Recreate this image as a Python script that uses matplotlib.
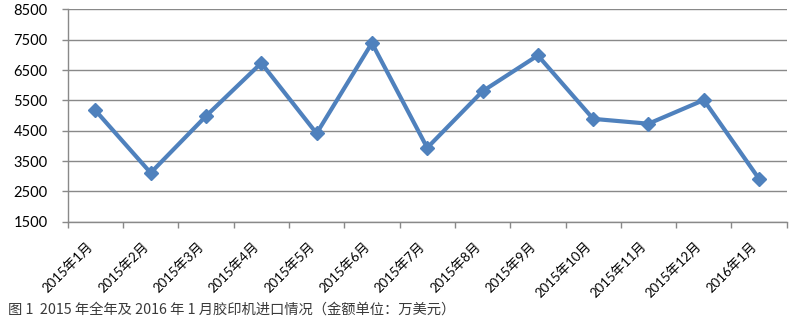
import numpy as np
import matplotlib
matplotlib.use('Agg')
import matplotlib.pyplot as plt
from matplotlib.ticker import FixedLocator

months = ['2015年1月', '2015年2月', '2015年3月', '2015年4月', '2015年5月',
          '2015年6月', '2015年7月', '2015年8月', '2015年9月', '2015年10月',
          '2015年11月', '2015年12月', '2016年1月']
imports = [5170, 3110, 4980, 6730, 4410, 7390, 3935, 5800, 6980, 4890,
           4730, 5510, 2910]
yticks = [1500, 2500, 3500, 4500, 5500, 6500, 7500, 8500]
caption = '图 1  2015 年全年及 2016 年 1 月胶印机进口情况（金额单位：万美元）'

line_color = '#4F81BD'
grid_color = '#898989'
fonts = ['Lato', 'Noto Sans CJK SC', 'DejaVu Sans']

fig = plt.figure(figsize=(8.02, 3.22), dpi=100)
ax = fig.add_axes([0.0844, 0.3115, 0.8966, 0.6595])

x = np.arange(len(months))
ax.plot(x, imports, color=line_color, linewidth=3.0, marker='D',
        markersize=7.5, markerfacecolor=line_color,
        markeredgecolor=line_color, zorder=3)

ax.set_xlim(-0.5, len(months) - 0.5)
ax.set_ylim(yticks[0], yticks[-1])
ax.set_yticks(yticks)
ax.yaxis.grid(True, color=grid_color, linewidth=1.0)
ax.set_axisbelow(True)

# labels sit at the category centres, tick marks between categories
ax.set_xticks(x)
ax.set_xticklabels(months, rotation=45, ha='right', fontsize=9.5,
                   family=fonts)
ax.xaxis.set_minor_locator(FixedLocator(np.arange(len(months) + 1) - 0.5))
ax.tick_params('x', which='major', length=0, pad=13)
ax.tick_params('x', which='minor', length=4.5, width=1.0, color=grid_color,
               direction='out')
ax.tick_params('y', which='major', length=4.5, width=1.0, color=grid_color,
               direction='out', pad=10, labelsize=10.5)
for lab in ax.get_yticklabels():
    lab.set_family(fonts)

for side in ['top', 'right']:
    ax.spines[side].set_visible(False)
for side in ['left', 'bottom']:
    ax.spines[side].set_color(grid_color)
    ax.spines[side].set_linewidth(1.0)

fig.text(0.01, 0.037, caption, fontsize=10.3, color='#3a3a3a',
         family=['Noto Sans CJK SC', 'DejaVu Sans'], weight='light',
         va='center', ha='left')

fig.savefig('out.png', dpi=100)
